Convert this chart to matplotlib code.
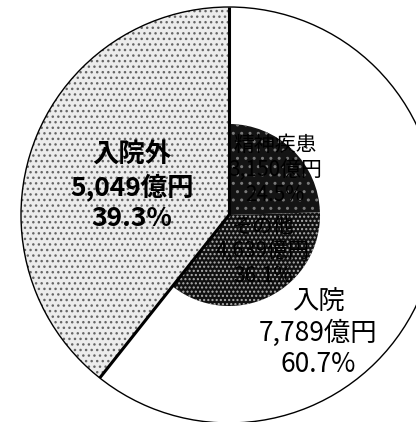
import numpy as np
import matplotlib.pyplot as plt

plt.rcParams['font.family'] = ['Noto Sans CJK JP', 'DejaVu Sans']

# 医療費の内訳（億円）
outer_labels = ['入院', '入院外']
outer_values = [7789, 5049]
# 入院の内訳（億円）
inner_labels = ['精神疾患', 'その他']
inner_values = [3150, 4639]

total = sum(outer_values)
R = 208        # outer radius
r_in = 91      # inner radius

fig = plt.figure(figsize=(4.16, 4.22), dpi=100)
ax = fig.add_axes([0, 0, 1, 1])

# outer pie: 入院 (white) and 入院外 (stippled)
outer, _ = ax.pie(outer_values, radius=R, startangle=90, counterclock=False,
                  colors=['white', '#ececec'])
outer[1].set_hatch('...')
outer[1].set_edgecolor('#666666')
outer[0].set_edgecolor('white')
for w in outer:
    w.set_linewidth(0)

# inner pie inside the 入院 slice
inner, _ = ax.pie(inner_values + [outer_values[1]], radius=r_in, startangle=90,
                  counterclock=False, colors=['#141414', '#101010', 'none'])
inner[0].set_hatch('..')
inner[0].set_edgecolor('#7a7a7a')
inner[1].set_hatch('....')
inner[1].set_edgecolor('#b0b0b0')
inner[2].set_visible(False)
for w in inner:
    w.set_linewidth(0)

# outline of the outer circle
ax.pie([1], radius=R, colors=['none'],
       wedgeprops={'edgecolor': 'black', 'linewidth': 1.0, 'fill': False})

# radial dividers between 入院 and 入院外
bounds = 90 - 360 * np.cumsum([0] + outer_values[:1]) / total
for a in bounds:
    t = np.deg2rad(a)
    ax.plot([0, R * np.cos(t)], [0, R * np.sin(t)], color='black', lw=2.2,
            solid_capstyle='butt')

def label(v, name):
    return f'{name}\n{v:,}億円\n{v / total * 100:.1f}%'

ax.text(-97, 28, label(outer_values[1], outer_labels[1]), ha='center', va='center',
        fontsize=19, fontweight='bold', linespacing=1.2, color='black')
ax.text(89, -118, label(outer_values[0], outer_labels[0]), ha='center', va='center',
        fontsize=19, linespacing=1.2, color='black')
ax.text(46, 45, label(inner_values[0], inner_labels[0]), ha='center', va='center',
        fontsize=15, linespacing=1.15, color='black')
ax.text(34, -36, label(inner_values[1], inner_labels[1]), ha='center', va='center',
        fontsize=15, linespacing=1.15, color='black')

# pie() resets the view, so fix the window afterwards
ax.set_xlim(-229, 187)
ax.set_ylim(-207, 215)
ax.set_aspect('equal')
ax.axis('off')

fig.savefig('out.png', dpi=100)
